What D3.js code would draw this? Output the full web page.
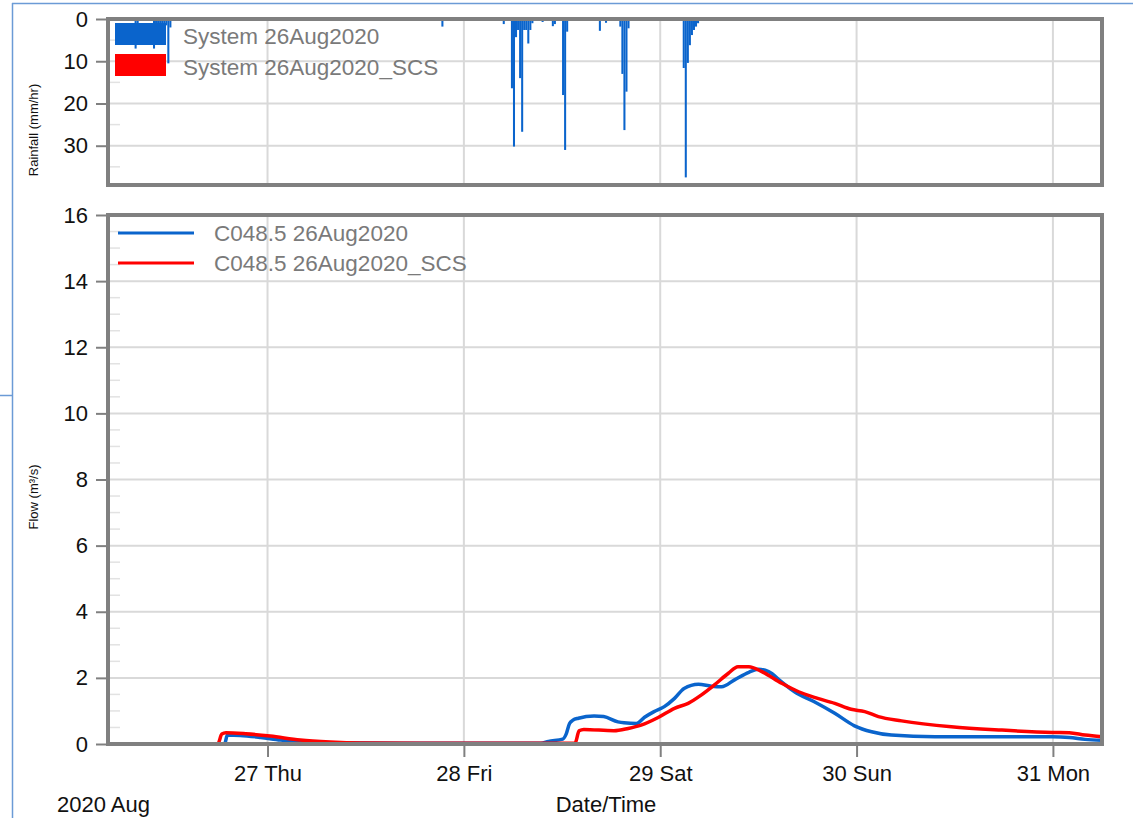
<!DOCTYPE html>
<html>
<head>
<meta charset="utf-8">
<script src="https://cdn.jsdelivr.net/npm/d3@7"></script>
<style>
  html, body { margin: 0; padding: 0; background: #fff; }
  svg { display: block; font-family: "Liberation Sans", Arial, sans-serif; }
</style>
</head>
<body>
<svg id="chart" width="1133" height="818"></svg>
<script>
// ---- Rainfall (15-minute intensities, mm/hr) ----
const rainTimes = [
  "2020-08-26T07:45", "2020-08-26T08:00", "2020-08-26T10:00", "2020-08-26T10:15",
  "2020-08-26T10:30", "2020-08-26T10:45", "2020-08-26T11:00", "2020-08-26T11:15",
  "2020-08-26T11:30", "2020-08-26T11:45", "2020-08-26T12:00", "2020-08-27T21:15",
  "2020-08-28T02:30", "2020-08-28T04:45", "2020-08-28T05:45", "2020-08-28T06:00",
  "2020-08-28T06:15", "2020-08-28T06:30", "2020-08-28T06:45", "2020-08-28T07:00",
  "2020-08-28T07:15", "2020-08-28T07:30", "2020-08-28T07:45", "2020-08-28T08:00",
  "2020-08-28T08:15", "2020-08-28T09:30", "2020-08-28T10:45", "2020-08-28T11:00",
  "2020-08-28T12:00", "2020-08-28T12:15", "2020-08-28T12:30", "2020-08-28T16:30",
  "2020-08-28T17:15", "2020-08-28T19:00", "2020-08-28T19:15", "2020-08-28T19:30",
  "2020-08-28T19:45", "2020-08-28T20:00", "2020-08-29T02:45", "2020-08-29T03:00",
  "2020-08-29T03:15", "2020-08-29T03:30", "2020-08-29T03:45", "2020-08-29T04:00",
  "2020-08-29T04:15", "2020-08-29T04:30"
];
const rainMm = [
  7.0, 1.5, 7.0, 3.0,
  2.0, 4.5, 2.5, 1.5,
  1.5, 10.5, 2.0, 1.8,
  0.3, 1.2, 16.4, 30.2,
  4.3, 2.6, 14.0, 26.7,
  2.6, 2.6, 5.8, 2.6,
  1.0, 0.7, 1.7, 1.2,
  18.0, 31.0, 3.0, 2.8,
  0.9, 1.8, 13.0, 26.3,
  17.2, 2.2, 11.6, 37.5,
  10.4, 6.2, 3.8, 2.6,
  1.8, 1.0
];

// ---- Flow at C048.5 (m3/s) ----
const flowTimesA = [
  "2020-08-26T04:30", "2020-08-26T18:45", "2020-08-26T19:05", "2020-08-26T20:40",
  "2020-08-26T23:10", "2020-08-27T01:35", "2020-08-27T04:00", "2020-08-27T07:40",
  "2020-08-27T16:20", "2020-08-28T09:25", "2020-08-28T10:20", "2020-08-28T12:05",
  "2020-08-28T12:30", "2020-08-28T12:55", "2020-08-28T13:20", "2020-08-28T14:00",
  "2020-08-28T15:55", "2020-08-28T17:05", "2020-08-28T18:50", "2020-08-28T19:35",
  "2020-08-28T21:05", "2020-08-28T22:05", "2020-08-28T23:15", "2020-08-29T00:30",
  "2020-08-29T01:45", "2020-08-29T02:55", "2020-08-29T04:40", "2020-08-29T06:15",
  "2020-08-29T07:30", "2020-08-29T09:05", "2020-08-29T10:50", "2020-08-29T12:00",
  "2020-08-29T13:15", "2020-08-29T14:50", "2020-08-29T16:25", "2020-08-29T18:50",
  "2020-08-29T21:20", "2020-08-29T23:45", "2020-08-30T01:50", "2020-08-30T04:15",
  "2020-08-30T09:35", "2020-08-30T23:55", "2020-08-31T02:00", "2020-08-31T03:55",
  "2020-08-31T06:00"
];
const flowA = [
  0, 0, 0.27, 0.26,
  0.20, 0.12, 0.07, 0.04,
  0.02, 0.02, 0.08, 0.15,
  0.30, 0.62, 0.72, 0.78,
  0.85, 0.83, 0.67, 0.64,
  0.62, 0.81, 0.98, 1.13,
  1.38, 1.68, 1.81, 1.75,
  1.73, 1.94, 2.17, 2.26,
  2.19, 1.88, 1.58, 1.28,
  0.93, 0.55, 0.37, 0.27,
  0.22, 0.22, 0.20, 0.14,
  0.11
];

const flowTimesB = [
  "2020-08-26T04:30", "2020-08-26T17:55", "2020-08-26T18:25", "2020-08-26T18:55",
  "2020-08-26T21:20", "2020-08-27T00:20", "2020-08-27T04:00", "2020-08-27T07:40",
  "2020-08-27T11:25", "2020-08-27T18:45", "2020-08-28T13:35", "2020-08-28T14:05",
  "2020-08-28T14:40", "2020-08-28T18:20", "2020-08-28T20:05", "2020-08-28T21:40",
  "2020-08-28T23:45", "2020-08-29T01:45", "2020-08-29T03:25", "2020-08-29T05:00",
  "2020-08-29T06:35", "2020-08-29T08:20", "2020-08-29T09:30", "2020-08-29T10:50",
  "2020-08-29T12:25", "2020-08-29T14:50", "2020-08-29T16:55", "2020-08-29T18:50",
  "2020-08-29T21:20", "2020-08-29T23:20", "2020-08-30T01:00", "2020-08-30T02:40",
  "2020-08-30T05:30", "2020-08-30T11:35", "2020-08-30T17:45", "2020-08-30T23:55",
  "2020-08-31T02:00", "2020-08-31T03:55", "2020-08-31T06:00"
];
const flowB = [
  0, 0, 0.30, 0.34,
  0.31, 0.24, 0.12, 0.06,
  0.03, 0.02, 0.02, 0.40,
  0.44, 0.40, 0.47, 0.57,
  0.80, 1.08, 1.23, 1.48,
  1.78, 2.14, 2.34, 2.34,
  2.19, 1.84, 1.58, 1.41,
  1.23, 1.05, 0.98, 0.83,
  0.70, 0.52, 0.42, 0.35,
  0.34, 0.27, 0.22
];

const rainLegend = ["System 26Aug2020", "System 26Aug2020_SCS"];
const flowLegend = ["C048.5 26Aug2020", "C048.5 26Aug2020_SCS"];
const seriesColors = ["#0a64cc", "#ff0000"];

const dayTicks = ["2020-08-27", "2020-08-28", "2020-08-29", "2020-08-30", "2020-08-31"];
const rainTicks = [0, 10, 20, 30];
const flowTicks = [0, 2, 4, 6, 8, 10, 12, 14, 16];

// ---- Layout ----
const svg = d3.select("#chart");
const parse = d3.utcParse("%Y-%m-%dT%H:%M");
const parseDay = d3.utcParse("%Y-%m-%d");
const left = 108, right = 1102;
const rainTop = 19, rainBottom = 185;
const flowTop = 215, flowBottom = 744;

const x = d3.scaleUtc()
  .domain([parse("2020-08-26T04:30"), parse("2020-08-31T06:00")])
  .range([left, right]);
const yRain = d3.scaleLinear().domain([0, 39.3]).range([rainTop, rainBottom]);
const yFlow = d3.scaleLinear().domain([0, 16]).range([flowBottom, flowTop]);

const grid = "#d9d9d9", frame = "#808080", minor = "#e2e2e2";
const fontSize = 22;
const fontFamily = '"Liberation Sans", Arial, sans-serif';

// page decoration lines
svg.append("line").attr("x1", 12).attr("x2", 1133).attr("y1", 3.5).attr("y2", 3.5)
  .attr("stroke", "#6b9bd6").attr("stroke-width", 1.5);
svg.append("line").attr("x1", 12.5).attr("x2", 12.5).attr("y1", 3).attr("y2", 818)
  .attr("stroke", "#6b9bd6").attr("stroke-width", 1.5);
svg.append("line").attr("x1", 0).attr("x2", 12).attr("y1", 395.5).attr("y2", 395.5)
  .attr("stroke", "#6b9bd6").attr("stroke-width", 1.5);

const dayDates = dayTicks.map(parseDay);

function panelGrid(top, bottom, yScale, ticks, minorStep, maxVal) {
  const g = svg.append("g");
  // vertical day gridlines
  g.selectAll(".vg").data(dayDates).join("line")
    .attr("x1", d => x(d)).attr("x2", d => x(d))
    .attr("y1", top).attr("y2", bottom)
    .attr("stroke", grid).attr("stroke-width", 2);
  // horizontal gridlines
  g.selectAll(".hg").data(ticks).join("line")
    .attr("x1", left).attr("x2", right)
    .attr("y1", d => yScale(d)).attr("y2", d => yScale(d))
    .attr("stroke", grid).attr("stroke-width", 2);
  // minor ticks inside the frame
  const minors = d3.range(minorStep, maxVal, minorStep).filter(v => !ticks.includes(v));
  g.selectAll(".mt").data(minors).join("line")
    .attr("x1", left).attr("x2", left + 12)
    .attr("y1", d => yScale(d)).attr("y2", d => yScale(d))
    .attr("stroke", minor).attr("stroke-width", 1.5);
}

panelGrid(rainTop, rainBottom, yRain, rainTicks, 5, 39.3);
panelGrid(flowTop, flowBottom, yFlow, flowTicks, 0.5, 16);

// ---- Rainfall bars ----
const rain = rainTimes.map((t, i) => ({ t: parse(t), v: rainMm[i] }));
svg.append("g").selectAll("rect").data(rain).join("rect")
  .attr("x", d => x(d.t))
  .attr("width", d => x(d3.utcMinute.offset(d.t, 15)) - x(d.t))
  .attr("y", yRain(0))
  .attr("height", d => yRain(d.v) - yRain(0))
  .attr("fill", seriesColors[0]);

// ---- Flow lines ----
const line = d3.line().x(d => x(d.t)).y(d => yFlow(d.v)).curve(d3.curveMonotoneX);
const seriesA = flowTimesA.map((t, i) => ({ t: parse(t), v: flowA[i] }));
const seriesB = flowTimesB.map((t, i) => ({ t: parse(t), v: flowB[i] }));
[seriesA, seriesB].forEach((s, i) => {
  svg.append("path").datum(s)
    .attr("d", line)
    .attr("fill", "none")
    .attr("stroke", seriesColors[i])
    .attr("stroke-width", 3.5)
    .attr("stroke-linejoin", "round");
});

// ---- Frames ----
[[rainTop, rainBottom], [flowTop, flowBottom]].forEach(([t, b]) => {
  svg.append("rect").attr("x", left).attr("y", t)
    .attr("width", right - left).attr("height", b - t)
    .attr("fill", "none").attr("stroke", frame).attr("stroke-width", 4);
});

// ---- Y axes ----
function yAxis(scale, ticks) {
  const g = svg.append("g").attr("transform", `translate(${left - 2},0)`)
    .call(d3.axisLeft(scale).tickValues(ticks).tickSize(10).tickPadding(8).tickFormat(d3.format("d")));
  g.select(".domain").remove();
  g.selectAll(".tick line").attr("stroke", frame).attr("stroke-width", 2);
  g.selectAll(".tick text").attr("fill", "#111").style("font-size", fontSize + "px")
    .style("font-family", fontFamily);
}
yAxis(yRain, rainTicks);
yAxis(yFlow, flowTicks);

// ---- X axis (bottom panel) ----
const fmtDay = d3.utcFormat("%d %a");
const xg = svg.append("g").attr("transform", `translate(0,${flowBottom + 2})`)
  .call(d3.axisBottom(x).tickValues(dayDates).tickSize(11).tickPadding(8).tickFormat(fmtDay));
xg.select(".domain").remove();
xg.selectAll(".tick line").attr("stroke", frame).attr("stroke-width", 2);
xg.selectAll(".tick text").attr("fill", "#111").style("font-size", fontSize + "px")
  .style("font-family", fontFamily);

svg.append("text").attr("x", 57).attr("y", 812).attr("fill", "#111")
  .style("font-size", fontSize + "px").text("2020 Aug");
svg.append("text").attr("x", 606).attr("y", 812).attr("fill", "#111")
  .attr("text-anchor", "middle").style("font-size", fontSize + "px").text("Date/Time");

// ---- Axis titles ----
svg.append("text").attr("transform", "translate(38,130) rotate(-90)")
  .attr("text-anchor", "middle").attr("fill", "#111").style("font-size", "13px")
  .text("Rainfall (mm/hr)");
svg.append("text").attr("transform", "translate(38,497) rotate(-90)")
  .attr("text-anchor", "middle").attr("fill", "#111").style("font-size", "13px")
  .text("Flow (m³/s)");

// ---- Legends ----
const legendText = "#7a7a7a";
rainLegend.forEach((name, i) => {
  const yy = 23 + i * 31;
  svg.append("rect").attr("x", 115).attr("y", yy).attr("width", 51).attr("height", 22)
    .attr("fill", seriesColors[i]);
  svg.append("text").attr("x", 183).attr("y", yy + 21).attr("fill", legendText)
    .style("font-size", "22.5px").text(name);
});
flowLegend.forEach((name, i) => {
  const yy = 233 + i * 30;
  svg.append("line").attr("x1", 118).attr("x2", 194).attr("y1", yy).attr("y2", yy)
    .attr("stroke", seriesColors[i]).attr("stroke-width", 3);
  svg.append("text").attr("x", 214).attr("y", yy + 8).attr("fill", legendText)
    .style("font-size", "22.5px").text(name);
});
</script>
</body>
</html>
